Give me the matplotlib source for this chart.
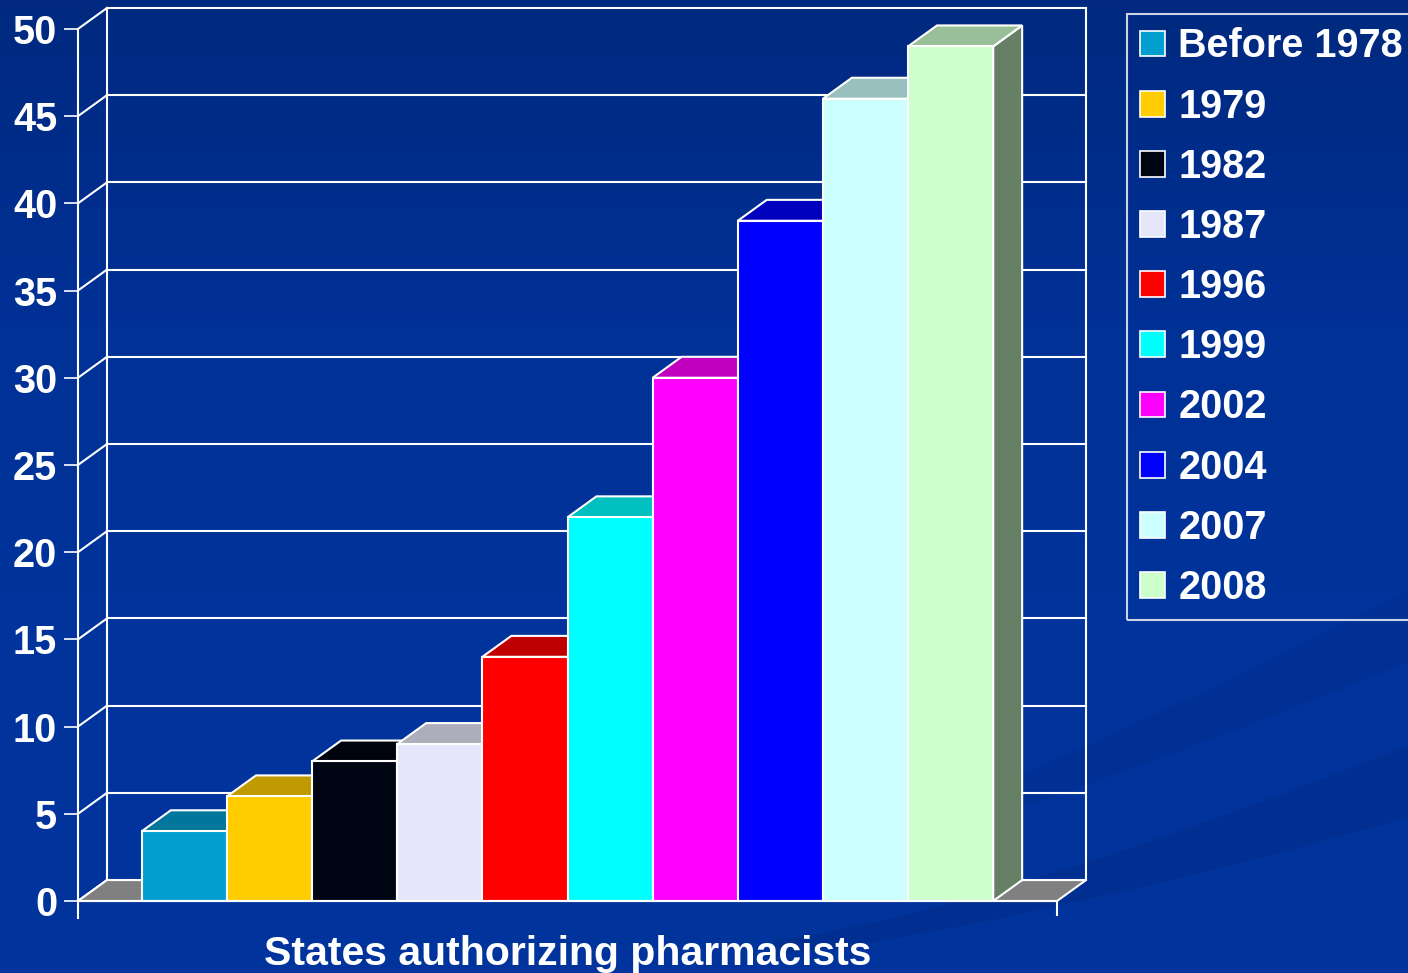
import matplotlib
matplotlib.use('Agg')
import matplotlib.pyplot as plt
import numpy as np
from matplotlib.patches import Rectangle, Polygon, Patch
from matplotlib.colors import to_rgb, LinearSegmentedColormap

# --- DATA ---
years = ['Before 1978', '1979', '1982', '1987', '1996', '1999',
         '2002', '2004', '2007', '2008']
states = [4, 6, 8, 9, 14, 22, 30, 39, 46, 49]
colors = ['#009FCF', '#FFCC00', '#000514', '#E6E6FA', '#FF0000',
          '#00FFFF', '#FF00FF', '#0000FF', '#CCFFFF', '#CCFFCC']
yticks = list(range(0, 55, 5))
xlabel = 'States authorizing pharmacists'

# 3D look: depth offset in data units
DX, DY = 0.34, 1.2
X0, X1 = -1.25, 10.25          # front floor edges
YMAX = 50

plt.rcParams['font.family'] = ['Liberation Sans', 'DejaVu Sans']
plt.rcParams['font.weight'] = 'bold'

W, H = 1408, 973
fig = plt.figure(figsize=(W / 100, H / 100), dpi=100)

# background gradient + faint swooshes
bg = fig.add_axes([0, 0, 1, 1])
grad = np.linspace(0, 1, 256).reshape(-1, 1)
bg.imshow(grad, aspect='auto', extent=[0, 1, 0, 1], origin='upper',
          cmap=LinearSegmentedColormap.from_list(
              'bgc', ['#00297F', '#003196', '#00349C', '#00349C']))
xs = np.linspace(0.55, 1, 200)
t = (xs - 0.55) / 0.45
bg.fill_between(xs, 0.02 + 0.14 * t**1.3, 0.035 + 0.2 * t**1.3,
                color='#002C88', alpha=0.5, lw=0)
bg.fill_between(xs, 0.10 + 0.22 * t**1.2, 0.115 + 0.28 * t**1.2,
                color='#002C88', alpha=0.4, lw=0)
bg.set_xlim(0, 1)
bg.set_ylim(0, 1)
bg.axis('off')

ax = fig.add_axes([78 / W, (H - 901) / H, (1086 - 78) / W, (901 - 8) / H])
ax.patch.set_alpha(0)
ax.set_xlim(X0, X1 + DX)
ax.set_ylim(0, YMAX + DY)
for s in ax.spines.values():
    s.set_visible(False)

wl = dict(color='white', lw=1.5, clip_on=False, zorder=1)

# back wall and gridlines
ax.plot([X0 + DX, X0 + DX], [DY, YMAX + DY], **wl)
ax.plot([X1 + DX, X1 + DX], [DY, YMAX + DY], **wl)
for v in yticks:
    ax.plot([X0 + DX, X1 + DX], [v + DY, v + DY], **wl)
    ax.plot([X0, X0 + DX], [v, v + DY], **wl)

# floor
ax.add_patch(Polygon([(X0, 0), (X1, 0), (X1 + DX, DY), (X0 + DX, DY)],
                     facecolor='#808080', edgecolor='white', lw=1.5,
                     clip_on=False, zorder=2))

# front axis lines
fl = dict(wl, zorder=5)
ax.plot([X0, X0], [-1.0, YMAX], **fl)
ax.plot([X0, X1], [0, 0], **fl)
ax.plot([X1, X1], [0, -0.8], **fl)


def shade(c, f):
    r, g, b = to_rgb(c)
    return (r * f, g * f, b * f)


for i, (v, c) in enumerate(zip(states, colors)):
    l, r = i - 0.5, i + 0.5
    z = 3 + i * 0.01
    ax.add_patch(Polygon([(r, 0), (r + DX, DY), (r + DX, v + DY), (r, v)],
                         facecolor=shade(c, 0.5), edgecolor='white', lw=1.5, zorder=z))
    ax.add_patch(Polygon([(l, v), (r, v), (r + DX, v + DY), (l + DX, v + DY)],
                         facecolor=shade(c, 0.75), edgecolor='white', lw=1.5, zorder=z))
    ax.add_patch(Rectangle((l, 0), 1, v, facecolor=c, edgecolor='white', lw=1.5,
                           zorder=z + 0.005))

ax.set_xticks([])
ax.set_yticks(yticks)
ax.tick_params(axis='y', direction='out', length=10, width=1.2, color='white',
               labelcolor='white', labelsize=28.5, pad=5)
for tl in ax.get_yticklabels():
    tl.set_fontweight('bold')

ax.text((X0 + X1) / 2, -3.67, xlabel, ha='center', va='baseline',
        color='white', fontsize=29.5, fontweight='bold', clip_on=False)

handles = [Patch(facecolor=c, edgecolor='white', lw=1.2) for c in colors]
leg = fig.legend(handles, years, loc='upper left',
                 bbox_to_anchor=(1127 / W, (H - 14) / H), bbox_transform=fig.transFigure,
                 frameon=True, fontsize=28.5, handlelength=0.63, handleheight=0.63,
                 handletextpad=0.33, labelspacing=0.56, borderpad=0.34,
                 borderaxespad=0, fancybox=False)
leg.get_frame().set_facecolor('none')
leg.get_frame().set_edgecolor('white')
leg.get_frame().set_linewidth(1.5)
for tl in leg.get_texts():
    tl.set_color('white')
    tl.set_fontweight('bold')

fig.savefig('out.png', dpi=100)
